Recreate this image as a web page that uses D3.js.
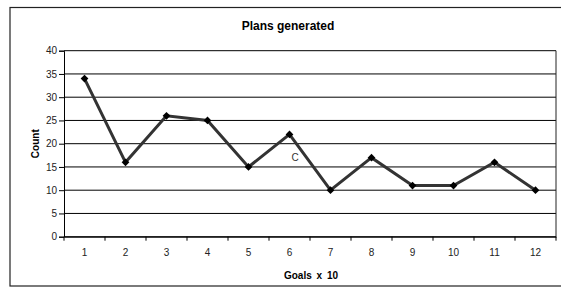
<!DOCTYPE html>
<html>
<head>
<meta charset="utf-8">
<script src="https://cdn.jsdelivr.net/npm/d3@7"></script>
<style>
  body { margin: 0; background: #fff; }
  svg { display: block; font-family: "Liberation Sans", Arial, sans-serif; }
</style>
</head>
<body>
<svg width="561" height="287"></svg>
<script>
const goals = ['1', '2', '3', '4', '5', '6', '7', '8', '9', '10', '11', '12'];
const counts = [34, 16, 26, 25, 15, 22, 10, 17, 11, 11, 16, 10];
const yTicks = [0, 5, 10, 15, 20, 25, 30, 35, 40];

const svg = d3.select('svg');

// outer chart frame (right edge runs off the picture)
svg.append('rect')
    .attr('x', 10)
    .attr('y', 7.5)
    .attr('width', 560)
    .attr('height', 278.5)
    .attr('fill', 'none')
    .attr('stroke', '#222')
    .attr('stroke-width', 1.2);

const plotLeft = 64, plotRight = 556, plotTop = 50.7, plotBottom = 236.7;

const xScale = d3.scaleBand()
    .domain(goals)
    .range([plotLeft, plotRight]);

const yScale = d3.scaleLinear()
    .domain([0, 40])
    .range([plotBottom, plotTop]);

// gridlines
svg.append('g')
    .selectAll('line')
    .data(yTicks)
    .join('line')
    .attr('x1', plotLeft)
    .attr('x2', plotRight)
    .attr('y1', d => yScale(d))
    .attr('y2', d => yScale(d))
    .attr('stroke', '#000')
    .attr('stroke-width', 1);

// right side of the plot box
svg.append('line')
    .attr('x1', plotRight).attr('x2', plotRight)
    .attr('y1', plotTop).attr('y2', plotBottom)
    .attr('stroke', '#222');

let yAxis = svg.append('g')
    .attr('transform', `translate(${plotLeft},0)`)
    .call(d3.axisLeft(yScale).tickValues(yTicks).tickSize(5).tickPadding(2));
yAxis.select('.domain').attr('stroke', '#000');
yAxis.selectAll('.tick line').attr('stroke', '#000');
yAxis.selectAll('.tick text')
    .attr('font-size', 10)
    .attr('fill', '#222')
    .attr('font-family', 'Liberation Sans, Arial, sans-serif');

let xAxis = svg.append('g')
    .attr('transform', `translate(0,${plotBottom})`)
    .call(d3.axisBottom(xScale).tickSize(0).tickPadding(12));
xAxis.select('.domain').attr('stroke', '#000');
xAxis.selectAll('.tick text')
    .attr('font-size', 10)
    .attr('fill', '#222')
    .attr('font-family', 'Liberation Sans, Arial, sans-serif');

// tick marks sit on the category boundaries
const edges = goals.map(g => xScale(g)).concat([plotRight]);
svg.append('g')
    .selectAll('line')
    .data(edges)
    .join('line')
    .attr('x1', d => d).attr('x2', d => d)
    .attr('y1', plotBottom).attr('y2', plotBottom + 4)
    .attr('stroke', '#000');

const cx = (d, i) => xScale(goals[i]) + xScale.bandwidth() / 2;

const line = d3.line()
    .x((d, i) => xScale(goals[i]) + xScale.bandwidth() / 2)
    .y(d => yScale(d));

svg.append('path')
    .datum(counts)
    .attr('d', line)
    .attr('fill', 'none')
    .attr('stroke', '#333')
    .attr('stroke-width', 3)
    .attr('stroke-linejoin', 'miter');

svg.append('g')
    .selectAll('path')
    .data(counts)
    .join('path')
    .attr('d', d3.symbol(d3.symbolSquare, 30))
    .attr('transform', (d, i) => `translate(${cx(d, i)},${yScale(d)}) rotate(45)`)
    .attr('fill', '#000');

// stray label in the plot
svg.append('text')
    .attr('x', 295)
    .attr('y', 161)
    .attr('text-anchor', 'middle')
    .attr('font-size', 10)
    .attr('fill', '#333')
    .text('C');

svg.append('text')
    .attr('x', 288)
    .attr('y', 29.5)
    .attr('text-anchor', 'middle')
    .attr('font-size', 12)
    .attr('font-weight', 'bold')
    .text('Plans generated');

svg.append('text')
    .attr('x', 311)
    .attr('y', 278.5)
    .attr('text-anchor', 'middle')
    .attr('font-size', 10)
    .attr('font-weight', 'bold')
    .attr('word-spacing', 2)
    .text('Goals x 10');

svg.append('text')
    .attr('transform', `translate(38.5,${(plotTop + plotBottom) / 2}) rotate(-90)`)
    .attr('text-anchor', 'middle')
    .attr('font-size', 10)
    .attr('font-weight', 'bold')
    .text('Count');
</script>
</body>
</html>
